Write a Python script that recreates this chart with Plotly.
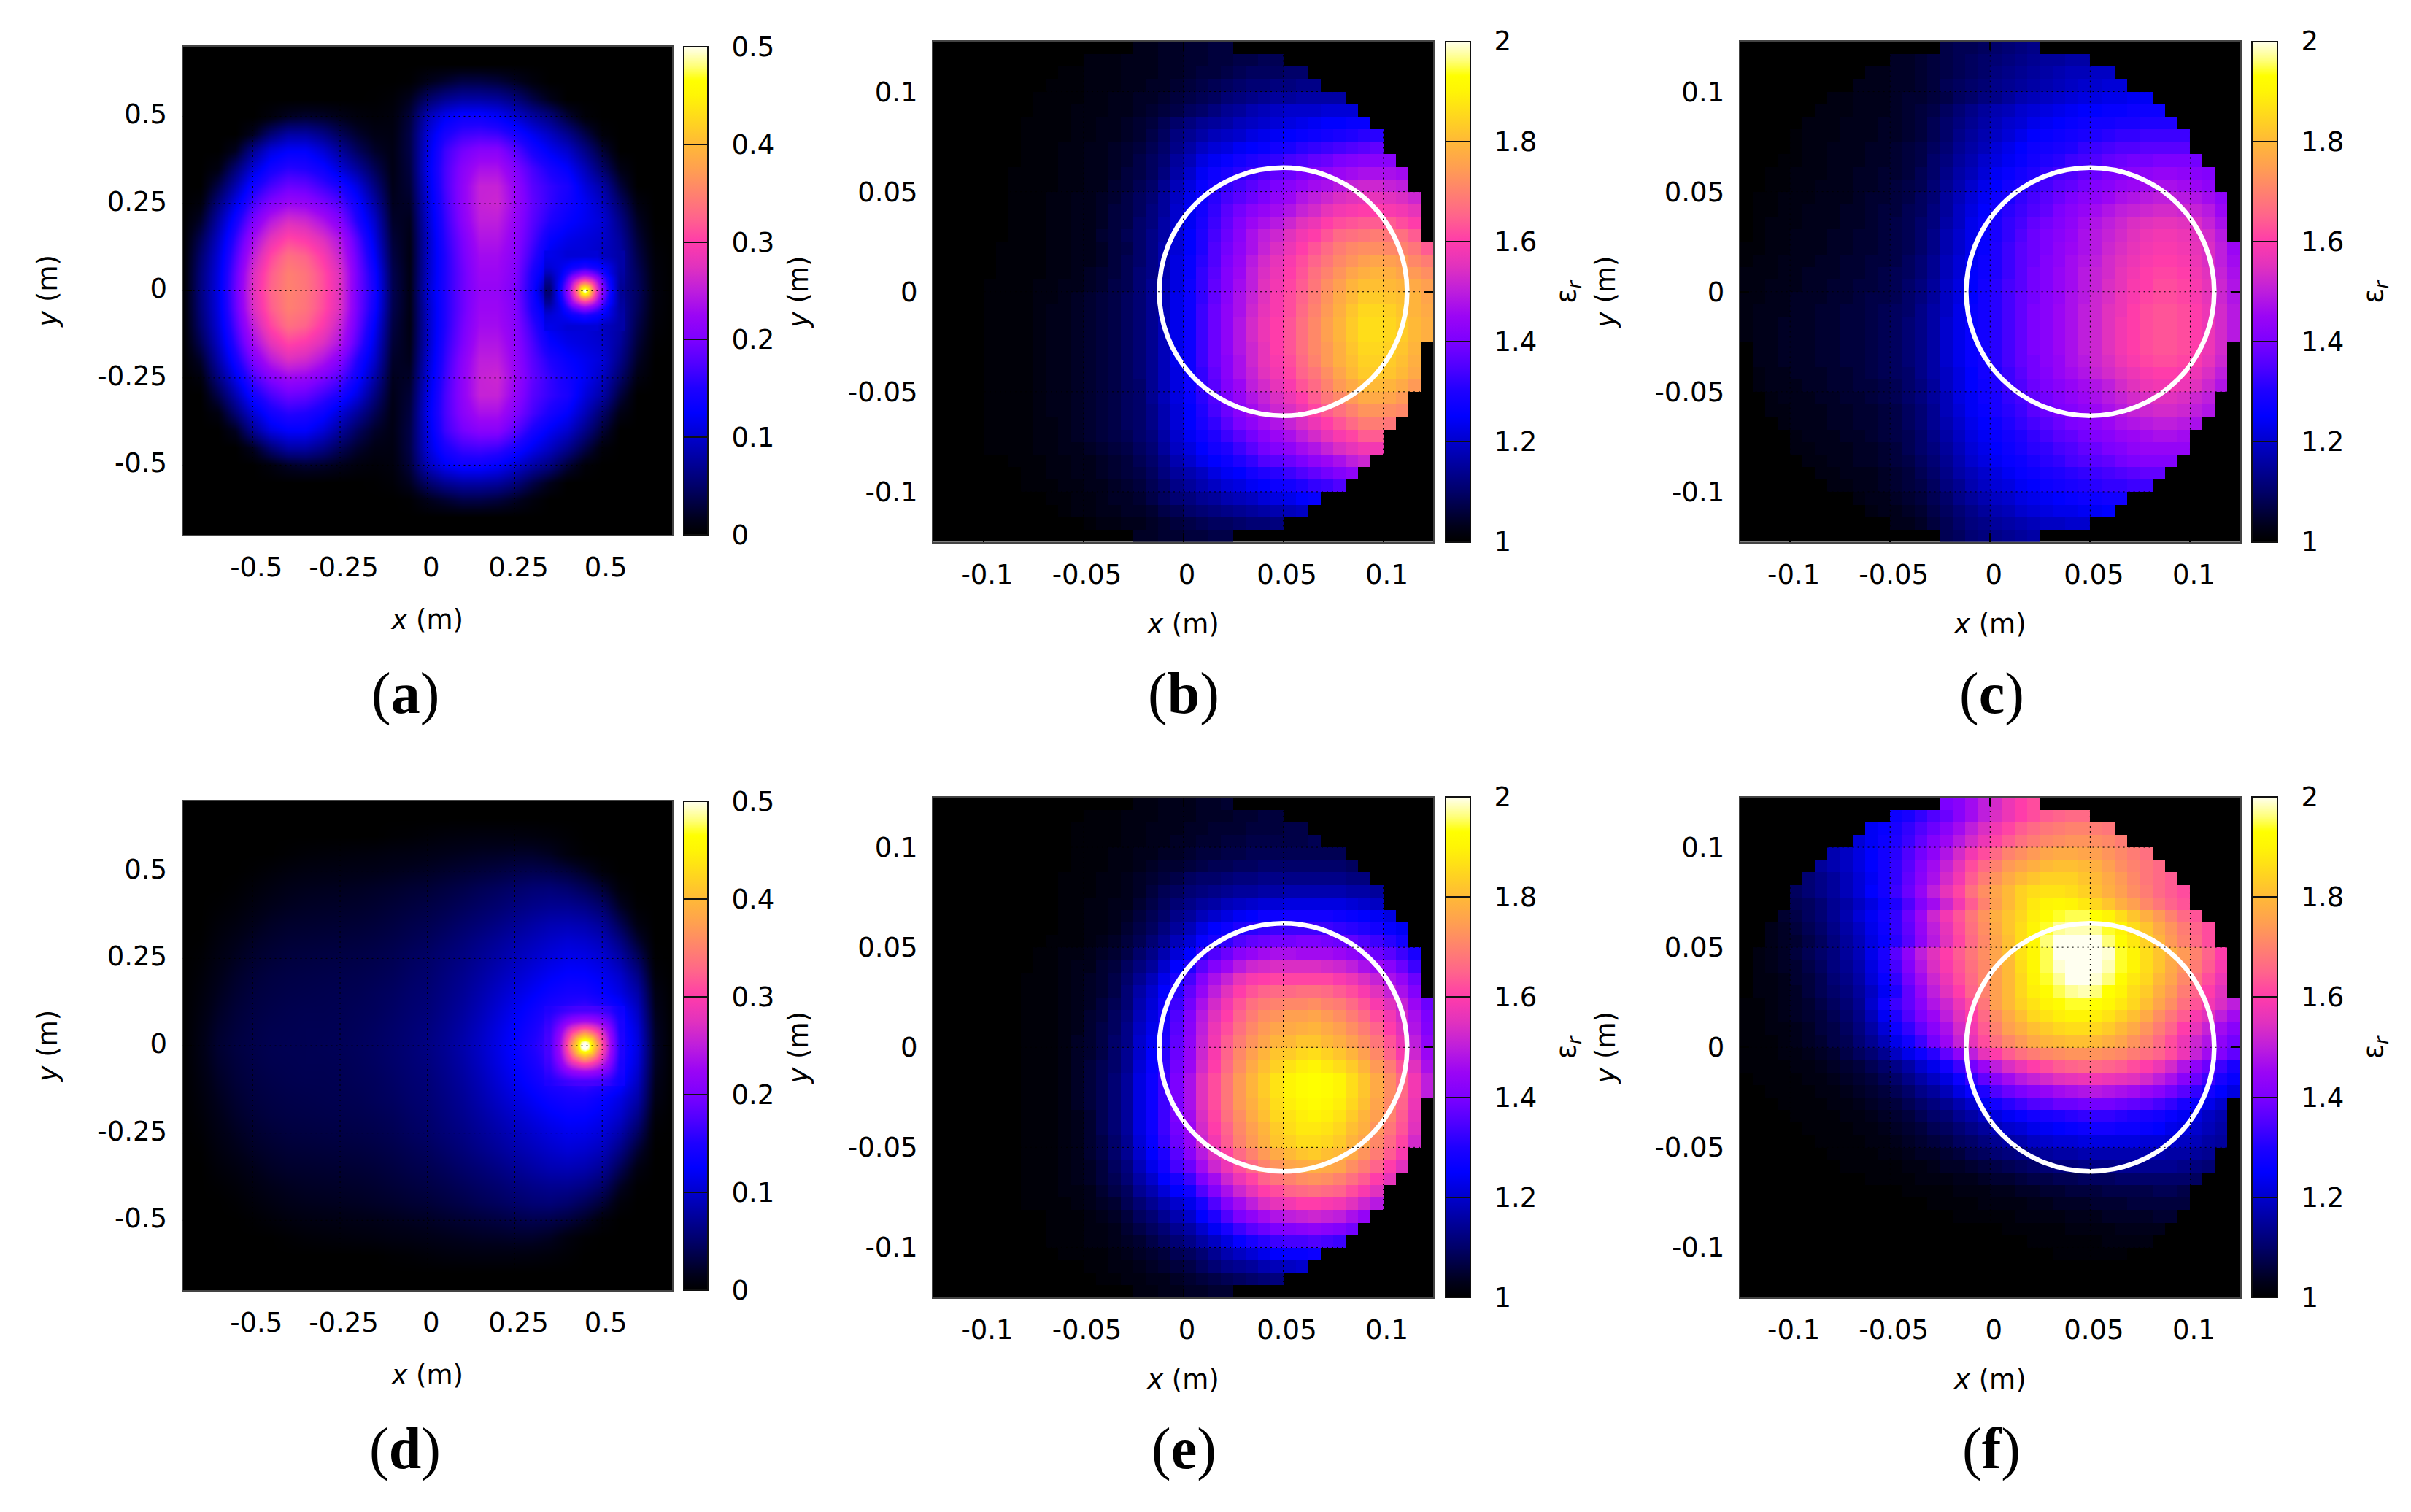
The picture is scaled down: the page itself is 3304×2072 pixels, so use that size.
import plotly.graph_objects as go

W, H = 3304, 2072
FONT = "DejaVu Sans"

# ---------- tick labels ----------
FIELD_TICKS = [-0.5, -0.25, 0, 0.25, 0.5]
FIELD_TEXT = ["-0.5", "-0.25", "0", "0.25", "0.5"]
EPS_TICKS = [-0.1, -0.05, 0, 0.05, 0.1]
EPS_TEXT = ["-0.1", "-0.05", "0", "0.05", "0.1"]
FIELD_BAR = [0, 0.1, 0.2, 0.3, 0.4, 0.5]
FIELD_BAR_TEXT = ["0", "0.1", "0.2", "0.3", "0.4", "0.5"]
EPS_BAR = [1, 1.2, 1.4, 1.6, 1.8, 2]
EPS_BAR_TEXT = ["1", "1.2", "1.4", "1.6", "1.8", "2"]

CIRCLE_X, CIRCLE_Y, CIRCLE_R = 0.05, 0.0, 0.062

# ---------- field maps (a), (d): thousandths, rows from y=0.70 down to y=0 (symmetric about y=0) ----------
FIELD_X = [-0.70, -0.65, -0.60, -0.55, -0.50, -0.45, -0.40, -0.35, -0.30, -0.25, -0.20, -0.15, -0.10, -0.05, 0,
           0.05, 0.10, 0.15, 0.20, 0.25, 0.30, 0.35, 0.40, 0.45, 0.50, 0.55, 0.60, 0.65, 0.70]
FIELD_Y_HALF = [0.70, 0.65, 0.60, 0.55, 0.50, 0.45, 0.40, 0.35, 0.30, 0.25, 0.20, 0.15, 0.10, 0.05, 0]

A_HALF = [
[0]*29,
[0]*29,
[0,0,0,0,0,0,0,0,0,0,0,0,0,2,15,25,35,35,30,20,8,0,0,0,0,0,0,0,0],
[0,0,0,0,0,0,0,0,0,0,0,1,4,18,50,70,80,80,75,60,35,15,0,0,0,0,0,0,0],
[0,0,0,0,0,8,20,25,22,15,8,5,8,30,90,120,135,135,125,105,80,60,28,5,0,0,0,0,0],
[0,0,0,0,18,55,80,80,65,42,24,12,10,35,105,145,165,170,165,145,118,95,68,35,6,0,0,0,0],
[0,0,0,18,70,110,125,125,105,75,45,22,12,35,110,165,195,210,210,180,145,120,100,65,28,0,0,0,0],
[0,0,10,55,105,140,155,150,135,105,75,40,12,32,115,170,210,235,235,205,170,145,125,90,50,12,0,0,0],
[0,0,35,85,140,170,190,185,165,145,110,60,14,28,110,170,215,255,255,220,180,160,145,108,80,30,0,0,0],
[0,8,60,115,170,205,225,220,200,175,135,80,17,22,105,165,215,255,260,225,185,160,140,120,95,50,10,0,0],
[0,22,80,140,200,245,270,262,238,205,150,98,22,16,100,160,210,250,250,220,180,150,130,118,105,65,20,0,0],
[0,40,95,160,230,278,305,295,272,238,175,110,28,13,95,155,200,240,240,215,172,130,115,108,100,75,28,2,0],
[0,52,105,175,252,305,335,325,296,255,188,122,33,11,95,150,195,230,230,210,160,115,105,105,95,80,35,5,0],
[0,58,110,186,270,320,348,338,310,270,195,135,38,12,95,150,190,225,225,205,145,100,90,90,80,78,42,7,0],
[0,60,112,190,275,325,350,340,312,272,195,140,40,12,100,150,190,220,220,200,140,55,60,90,70,72,45,8,0],
]
D_HALF = [
[0]*29,
[0]*29,
[0,0,0,0,0,0,0,0,0,0,0,0,2,3,5,7,8,9,9,9,8,6,3,0,0,0,0,0,0],
[0,0,0,0,0,0,2,4,5,6,7,8,10,11,13,15,17,19,20,22,22,18,8,2,0,0,0,0,0],
[0,0,0,0,2,5,8,10,11,12,13,14,16,18,20,23,26,29,32,36,38,36,30,20,6,0,0,0,0],
[0,0,0,2,6,10,14,16,17,18,19,21,23,26,28,32,36,41,45,50,55,57,52,42,28,6,0,0,0],
[0,0,2,5,10,15,18,20,21,22,23,25,28,31,34,38,43,48,53,60,66,70,70,64,50,20,2,0,0],
[0,0,5,9,15,20,23,24,25,26,27,29,32,36,39,44,50,56,63,71,79,86,88,84,72,40,10,0,0],
[0,1,8,14,20,24,27,28,29,30,31,33,36,40,44,50,57,65,73,82,90,98,104,100,90,62,25,0,0],
[0,3,11,18,24,28,31,32,33,34,35,37,40,45,49,56,63,72,81,91,100,109,116,114,105,82,45,2,0],
[0,5,14,22,28,32,34,35,36,37,38,40,43,48,52,60,68,78,89,100,111,121,128,127,118,100,65,6,0],
[0,7,17,25,31,34,36,37,38,39,40,43,46,51,55,63,72,84,97,110,122,134,142,142,130,112,82,12,0],
[0,9,20,28,33,36,38,39,39,40,42,44,48,53,57,66,76,89,104,119,134,150,160,170,158,135,95,16,0],
[0,11,23,30,35,38,39,40,40,41,43,46,50,55,60,69,80,94,110,126,143,165,170,170,165,145,105,20,0],
[0,12,25,32,36,39,40,40,41,42,44,47,51,56,62,71,83,97,113,130,150,170,200,220,200,150,110,22,0],
]

# small hot spot around the feed, finer read-out; rows from dy=+0.10 down to 0
SPOT_X = [0.35, 0.38, 0.40, 0.415, 0.43, 0.44, 0.45, 0.46, 0.47, 0.485, 0.50, 0.52, 0.55]
SPOT_Y_HALF = [0.10, 0.07, 0.05, 0.035, 0.02, 0.01, 0]
A_SPOT_HALF = [
[115,110,105,105,105,105,105,105,105,105,95,90,80],
[105,115,125,135,140,145,150,145,140,135,125,110,80],
[90,118,150,175,195,205,210,205,195,175,150,115,78],
[75,125,175,220,250,265,275,265,250,220,175,130,76],
[65,135,195,250,310,345,365,345,310,250,195,135,74],
[58,140,205,265,345,420,450,420,345,265,205,140,72],
[55,145,210,275,365,450,520,450,365,275,210,145,72],
]
D_SPOT_HALF = [
[150,160,165,168,170,170,170,170,170,168,165,158,135],
[160,190,210,222,230,233,235,233,230,222,210,188,145],
[165,210,250,275,295,305,310,305,295,275,250,208,145],
[168,222,275,315,345,365,380,365,345,315,275,220,148],
[170,230,295,345,410,430,445,430,410,345,295,228,150],
[170,233,305,365,430,480,500,480,430,365,305,232,150],
[170,235,310,380,445,500,530,500,445,380,310,232,150],
]

# ---------- permittivity maps (b), (c), (e), (f): (eps_r - 1) in hundredths, rows from top; each row centred in 40 columns ----------
B_ROWS = [
[3,3,4,4,5,5,6,6],
[2,2,2,3,3,3,4,4,5,5,6,6,7,7,8,8],
[1,1,2,2,2,3,3,3,4,4,5,6,6,7,8,9,9,9,10,10],
[1,1,1,2,2,2,3,3,4,4,5,6,7,8,9,10,11,11,12,12,13,13],
[0,1,1,1,1,2,2,3,3,4,4,5,6,7,8,9,11,12,13,14,15,15,16,16,16,16],
[0,0,1,1,1,2,2,2,3,3,4,5,6,7,9,10,12,14,15,17,18,19,20,20,20,21,21,21],
[0,0,1,1,1,1,2,2,3,3,4,5,6,8,10,12,14,15,16,18,19,20,21,22,23,24,25,25,26,26],
[0,0,0,1,1,1,1,2,2,3,3,4,5,7,9,12,14,16,18,19,20,22,23,24,25,26,27,28,29,30,31,31],
[0,0,0,1,1,1,2,2,3,3,4,5,6,8,10,13,16,19,21,22,24,25,26,28,29,31,32,33,34,35,36,37],
[0,0,0,0,1,1,1,2,2,3,3,4,5,7,9,11,15,18,22,24,26,28,30,31,32,34,35,37,38,40,41,42,42,42],
[0,0,0,0,1,1,1,1,2,2,3,3,4,6,7,9,12,16,20,24,27,29,31,33,35,37,38,40,42,43,45,46,47,47,47,46],
[0,0,0,0,1,1,1,1,2,2,3,3,5,6,8,10,14,18,22,26,29,32,34,36,38,40,42,44,46,47,49,51,52,52,51,50],
[0,0,0,0,0,1,1,1,2,2,3,3,4,5,7,9,11,15,19,23,27,31,34,36,38,40,43,45,48,50,52,54,55,56,56,55,54,52],
[0,0,0,0,0,1,1,1,2,2,3,3,4,6,7,9,12,15,20,24,28,32,36,39,42,44,46,48,51,53,56,58,59,60,60,59,58,56],
[0,0,0,0,0,1,1,1,2,2,3,3,4,6,7,10,12,16,20,24,29,33,37,41,45,47,49,52,55,57,60,62,63,64,64,64,62,60],
[0,0,0,0,0,1,1,1,2,2,3,3,5,6,8,10,13,16,21,25,30,34,38,42,47,50,52,55,58,60,63,66,67,68,69,68,67,64],
[0,0,0,0,0,1,1,1,1,2,2,3,3,4,6,7,10,13,17,21,25,30,35,39,43,47,51,54,57,60,63,66,69,71,72,72,71,70,68,64],
[0,0,0,0,0,1,1,1,1,2,2,3,3,4,6,8,10,13,17,22,26,31,35,40,44,49,53,56,59,62,65,68,71,73,75,76,75,74,71,69],
[0,0,0,0,0,1,1,1,1,2,2,3,4,5,6,8,11,13,17,22,26,32,36,41,45,50,54,57,60,63,67,70,73,76,78,79,78,76,74,72],
[0,0,0,0,1,1,1,1,2,2,3,3,4,5,7,8,11,14,18,22,27,32,37,41,46,50,55,58,61,64,68,72,75,79,81,81,80,79,77,75],
[0,0,0,0,1,1,1,1,2,2,3,4,5,6,7,9,11,14,18,23,27,32,37,42,47,51,55,59,62,65,69,73,77,80,83,83,82,81,79,76],
[0,0,0,0,1,1,1,1,2,3,3,4,5,6,7,9,11,14,18,23,27,33,38,43,47,52,56,59,62,66,70,74,78,82,85,85,84,82,79,77],
[0,0,0,0,1,1,1,1,2,3,3,4,5,6,7,9,11,14,18,23,27,33,38,43,48,53,57,60,63,67,71,75,79,83,86,86,85,83,80,78],
[0,0,0,0,1,1,1,1,2,3,3,4,5,6,7,9,11,14,18,23,27,33,38,43,48,53,57,60,63,67,71,75,79,83,86,86,85,83,80,78],
[0,0,0,1,1,1,1,2,3,3,4,5,6,7,9,11,14,18,23,27,33,38,43,48,52,56,60,63,67,71,74,78,82,85,85,84,82,79],
[0,0,0,1,1,1,1,2,3,3,4,5,6,7,9,11,14,18,23,27,33,38,42,47,52,56,59,62,66,70,74,78,81,84,84,83,81,78],
[0,0,0,1,1,1,1,2,3,3,4,5,6,7,9,11,14,18,22,27,32,37,42,47,51,55,58,61,65,68,72,76,80,83,83,82,80,77],
[0,0,0,1,1,1,1,2,3,3,4,5,6,7,9,10,14,18,22,27,32,36,41,45,50,53,56,59,63,66,70,74,77,80,80,79,77,74],
[0,0,1,1,1,1,2,3,3,4,5,6,7,9,10,14,18,22,26,31,35,40,44,48,51,54,57,60,64,68,71,74,77,77,76,74],
[0,0,1,1,1,1,2,3,3,4,5,6,7,9,10,13,17,21,25,30,34,38,42,46,49,52,54,57,61,64,67,70,73,73,72,71],
[0,1,1,1,1,2,2,3,4,5,6,7,9,10,13,17,21,25,29,32,36,40,43,46,48,51,54,57,60,63,66,69,69,68],
[1,1,1,1,2,2,3,4,5,6,7,8,10,12,16,20,24,27,30,33,36,39,42,45,47,50,53,56,59,61,64,64],
[1,1,1,1,2,2,3,3,4,5,6,7,9,11,15,19,22,25,28,30,33,36,39,41,43,46,48,51,54,56,58,58],
[0,1,1,1,2,2,3,3,4,5,6,8,10,13,17,20,23,25,27,30,32,35,36,38,40,43,45,47,50,52],
[0,1,1,2,2,3,3,4,5,6,7,9,12,15,17,19,22,24,25,28,30,31,33,35,37,39,41,43],
[1,1,1,2,2,3,3,4,5,6,8,10,13,15,17,19,21,22,24,25,27,28,30,32,33,35],
[1,1,2,2,3,4,4,5,7,9,11,12,14,15,17,18,19,21,22,23,25,26],
[1,2,2,3,3,4,4,5,7,8,10,11,12,13,14,15,16,17,18,19],
[1,2,2,3,3,4,5,6,7,8,9,9,10,11,11,12],
[4,4,5,5,6,6,7,7],
]
C_ROWS = [
[7,8,8,9,10,11,12,13],
[4,4,5,6,7,8,9,10,11,12,13,14,15,15,16,16],
[3,3,4,4,5,6,7,8,9,10,12,13,14,15,16,17,18,18,19,19],
[3,3,3,4,4,5,6,8,9,10,11,13,14,15,16,17,18,19,20,20,21,21],
[2,2,3,3,3,4,5,5,6,7,9,10,12,13,15,17,18,19,20,21,22,22,23,23,24,24],
[2,2,2,3,3,3,4,5,6,7,9,11,13,15,17,18,20,21,22,23,24,25,25,26,26,27,27,27],
[2,2,2,3,3,3,4,4,5,6,8,10,12,14,16,18,20,21,23,24,25,26,27,28,28,29,29,30,30,30],
[1,2,2,2,3,3,3,4,4,5,6,8,10,13,15,17,19,21,23,25,26,27,28,29,30,31,32,32,33,33,33,33],
[1,2,2,3,3,3,4,4,5,6,7,9,11,14,16,18,21,23,25,27,28,29,30,32,33,34,35,35,36,36,36,36],
[1,1,2,2,3,3,3,4,4,5,6,7,10,12,15,17,20,22,24,26,28,30,31,33,34,35,37,38,39,39,40,40,40,39],
[1,1,2,2,2,3,3,4,4,5,5,6,8,10,13,16,18,21,24,26,28,30,32,34,35,37,38,40,41,42,43,44,44,43,42,41],
[1,1,2,2,3,3,3,4,4,5,6,7,8,11,14,17,20,23,25,28,30,32,34,36,37,39,41,42,44,45,46,47,47,46,45,43],
[1,1,2,2,2,3,3,3,4,5,5,6,7,9,11,15,18,21,24,27,29,32,34,36,38,40,42,43,45,47,48,49,50,50,49,48,46,43],
[1,1,2,2,3,3,3,4,4,5,6,6,8,9,12,15,19,22,25,28,31,33,35,37,40,42,44,46,48,50,51,52,53,53,52,51,49,45],
[1,2,2,2,3,3,3,4,4,5,6,7,8,10,12,16,19,23,26,29,32,34,37,39,41,43,46,48,50,52,54,55,56,56,55,54,51,47],
[1,2,2,3,3,3,4,4,5,5,6,7,8,10,13,17,20,23,26,29,32,35,38,40,42,44,47,49,51,53,55,57,58,58,57,55,53,49],
[1,1,2,2,3,3,3,4,4,5,5,6,7,8,10,13,17,20,23,26,30,33,36,38,40,43,45,47,49,52,54,56,58,59,59,58,56,54,50,45],
[1,2,2,3,3,3,4,4,5,5,6,6,7,9,11,14,18,21,24,27,30,33,36,38,41,43,46,48,50,53,55,57,59,60,60,59,57,54,50,46],
[2,2,2,3,3,4,4,4,5,5,6,7,8,9,11,14,18,21,25,27,30,33,36,39,41,44,46,49,51,53,56,58,60,61,61,60,58,55,51,47],
[2,2,3,3,3,4,4,5,5,6,6,7,8,10,12,15,19,22,25,28,31,34,36,39,41,44,46,49,51,54,56,59,60,62,62,61,59,56,52,48],
[2,2,3,3,4,4,4,5,5,6,7,7,8,10,12,15,19,22,25,28,31,34,37,39,42,44,47,49,52,54,57,59,61,62,62,61,59,56,52,48],
[2,3,3,3,4,4,5,5,6,6,7,8,9,10,13,16,19,23,26,28,31,34,37,40,42,45,47,50,52,55,57,60,62,63,63,62,60,57,53,49],
[2,3,3,4,4,4,5,5,6,6,7,8,9,11,13,16,20,23,26,28,31,34,37,40,42,45,47,50,52,55,58,60,62,63,63,62,60,57,53,49],
[2,3,3,4,4,4,5,5,6,6,7,8,9,11,13,16,20,23,26,28,31,34,37,40,42,45,47,50,52,55,58,60,62,63,63,62,60,57,53,49],
[3,3,4,4,4,5,5,6,6,7,8,9,11,13,16,20,23,26,28,31,34,37,40,42,45,47,50,52,55,58,60,62,63,63,62,60,57,53],
[3,3,4,4,4,5,5,6,6,7,8,9,11,13,16,20,23,26,28,31,34,37,39,42,44,47,49,52,54,57,59,61,62,62,61,59,56,52],
[2,3,3,4,4,4,5,5,6,7,8,9,10,13,16,19,22,25,28,30,33,36,39,41,44,46,48,51,53,55,57,59,60,60,59,57,54,50],
[2,3,3,3,4,4,5,5,6,6,7,8,10,12,15,19,22,25,27,30,33,35,38,40,42,44,46,48,50,53,55,57,58,58,57,55,52,48],
[2,3,3,3,4,4,5,5,6,7,8,10,12,15,18,22,24,27,29,32,34,37,39,41,43,45,47,49,51,53,54,55,55,54,52,50],
[2,2,3,3,3,4,4,5,5,6,7,9,11,14,18,21,24,26,29,31,33,36,38,40,41,43,45,47,49,51,52,53,53,52,50,48],
[2,3,3,3,4,4,5,5,6,7,9,11,14,17,20,23,25,27,30,32,34,36,38,40,41,43,45,47,48,49,50,50,49,47],
[2,3,3,3,4,4,5,6,7,8,10,13,16,19,22,24,26,28,30,32,34,36,37,39,41,42,44,45,46,47,47,46],
[2,2,3,3,3,4,4,5,6,8,10,12,15,18,21,23,25,27,29,31,32,34,35,37,38,40,41,43,44,44,44,44],
[2,2,3,3,4,4,5,6,7,9,11,14,17,20,22,24,26,27,29,31,32,34,35,36,37,39,40,41,41,41],
[2,2,3,3,3,4,5,6,8,10,13,16,18,20,22,24,26,27,29,30,31,32,33,34,35,36,37,37],
[2,2,3,3,4,5,6,7,9,12,14,17,19,21,22,24,25,27,28,29,30,31,32,32,33,33],
[2,3,3,4,5,6,8,10,13,15,17,19,20,22,23,24,25,26,27,27,28,28],
[2,3,3,4,5,7,9,11,13,15,17,18,20,21,22,23,23,24,24,25],
[3,3,4,6,8,10,12,13,15,16,17,18,19,19,20,20],
[8,9,11,12,13,14,15,16],
]
E_ROWS = [
[2,2,3,3,3,4,4,5],
[1,1,1,2,2,2,3,3,3,4,4,4,5,5,6,6],
[0,1,1,1,1,2,2,3,3,3,4,4,5,5,5,6,6,6,7,7],
[0,0,1,1,1,1,2,2,3,3,4,4,5,5,6,6,7,7,7,7,7,8],
[0,0,0,0,1,1,1,2,2,3,3,4,4,5,6,6,7,7,8,8,8,8,8,8,8,8],
[0,0,0,0,0,1,1,1,2,2,3,4,5,5,6,7,8,8,9,9,10,10,10,10,10,10,10,9],
[0,0,0,0,0,1,1,1,2,2,3,4,5,6,7,9,10,10,11,12,12,13,13,13,13,13,13,13,12,12],
[0,0,0,0,0,0,1,1,1,2,2,3,4,6,8,9,11,12,13,14,15,15,16,16,17,17,17,17,17,16,16,15],
[0,0,0,0,0,0,1,1,2,2,3,3,5,7,9,11,13,15,16,18,19,20,21,21,22,22,22,22,22,21,20,19],
[0,0,0,0,0,0,0,1,1,2,2,3,4,6,8,10,13,15,18,20,22,24,25,27,27,28,28,28,28,27,26,25,24,22],
[0,0,0,0,0,0,0,0,1,1,2,2,3,5,7,9,12,15,18,22,25,27,30,31,32,33,33,33,33,33,32,31,30,28,26,24],
[0,0,0,0,0,0,0,1,1,1,2,3,4,6,8,11,14,18,21,26,29,32,35,37,38,39,39,40,40,39,38,37,35,33,31,28],
[0,0,0,0,0,0,0,1,1,2,2,3,4,5,7,10,13,17,21,25,31,35,38,42,44,46,47,47,46,46,46,45,43,41,38,36,33,29],
[0,0,0,0,0,0,0,1,1,2,3,3,5,6,9,12,15,20,25,30,36,41,45,49,52,53,54,54,54,54,53,52,50,47,45,42,38,33],
[0,0,0,0,0,0,1,1,1,2,3,4,5,7,10,14,18,23,29,34,41,47,51,56,59,60,61,61,61,61,61,59,57,54,51,47,44,38],
[0,0,0,0,0,0,1,1,1,2,3,4,5,7,11,16,20,25,31,37,44,50,55,60,63,65,66,66,67,67,66,64,62,59,55,51,47,41],
[0,0,0,0,0,0,0,1,1,1,2,3,4,6,8,11,17,21,27,33,39,47,53,58,63,67,69,70,71,71,72,70,69,66,63,59,55,51,45,38],
[0,0,0,0,0,0,0,1,1,1,2,3,5,6,9,12,18,22,28,35,41,49,55,60,65,69,72,73,75,75,76,74,72,69,66,62,58,53,47,40],
[0,0,0,0,0,0,0,1,1,1,2,3,5,7,9,13,19,23,29,36,42,50,57,62,67,71,74,76,77,78,79,77,75,72,69,65,60,55,48,41],
[0,0,0,0,0,0,0,1,1,1,2,4,5,7,10,13,20,24,30,37,43,51,58,64,69,73,76,79,80,82,82,80,78,75,72,68,63,57,50,43],
[0,0,0,0,0,0,0,1,1,1,2,4,5,7,10,14,20,25,31,38,44,52,59,65,71,75,79,82,83,85,86,84,82,79,75,71,65,59,52,45],
[0,0,0,0,0,0,0,1,1,1,2,4,6,8,10,14,21,26,32,39,45,53,60,66,72,77,81,84,87,89,90,88,86,83,79,74,69,63,55,47],
[0,0,0,0,0,0,0,1,1,1,2,4,6,8,11,15,22,27,33,40,47,55,62,68,74,79,83,87,90,92,93,92,90,86,82,77,72,66,58,50],
[0,0,0,0,0,0,0,1,1,1,2,4,6,8,11,15,22,27,33,40,47,55,62,68,74,79,83,87,90,92,93,92,90,86,82,77,72,66,58,50],
[0,0,0,0,0,0,1,1,1,2,4,6,8,11,15,22,27,33,40,47,55,62,68,74,78,82,86,89,91,92,91,89,85,81,76,71,65,57],
[0,0,0,0,0,0,1,1,1,2,3,5,8,11,15,22,27,33,40,46,54,61,67,72,77,81,85,87,89,90,89,87,83,79,75,70,64,56],
[0,0,0,0,0,0,1,1,1,2,3,5,8,11,15,22,27,33,39,45,53,60,65,71,75,79,83,86,88,88,87,85,81,78,73,68,63,55],
[0,0,0,0,0,0,1,1,1,2,3,5,7,10,14,21,26,32,38,44,52,58,64,70,74,78,82,84,86,86,85,83,79,76,71,66,61,53],
[0,0,0,0,0,1,1,1,2,3,5,7,10,14,20,25,30,36,42,49,55,61,66,70,74,77,80,82,83,81,80,77,73,69,64,59],
[0,0,0,0,0,1,1,1,2,3,4,6,9,12,18,23,28,34,38,46,52,57,62,66,70,73,76,77,78,77,76,72,69,65,60,55],
[0,0,0,0,1,1,1,2,3,4,6,8,11,16,20,25,29,33,40,46,52,57,61,65,68,70,72,73,72,70,67,64,60,56],
[0,0,0,1,1,1,2,2,3,5,7,9,14,17,21,25,28,35,41,47,52,56,60,62,65,66,67,66,65,62,59,55],
[0,0,0,1,1,1,1,2,3,4,5,8,11,14,17,20,23,29,35,41,46,50,54,56,58,60,60,59,58,55,52,49],
[0,0,0,0,1,1,1,2,3,4,6,9,11,14,17,20,25,30,35,40,43,46,48,50,51,52,51,50,47,44],
[0,0,0,1,1,1,2,2,3,5,7,9,11,14,16,20,24,29,33,36,38,40,41,42,43,42,41,39],
[0,0,1,1,1,2,2,3,4,5,7,9,11,13,16,19,22,26,29,31,33,34,34,35,34,33],
[0,1,1,1,1,2,3,4,5,6,8,9,11,14,17,19,21,23,25,26,26,27],
[0,0,1,1,2,2,3,4,5,6,7,9,11,13,14,15,17,18,19,20],
[0,1,1,2,2,3,3,4,5,6,7,8,9,10,11,12],
[2,2,3,3,4,4,5,5],
]
F_ROWS = [
[40,42,46,50,53,57,60,62],
[27,29,32,35,38,42,46,50,54,57,60,62,64,65,66,66],
[24,26,29,32,35,38,42,46,50,54,58,61,64,66,68,69,70,70,69,68],
[21,24,27,30,33,37,41,45,49,53,57,61,64,67,69,71,72,73,73,72,71,69],
[17,19,22,25,28,31,35,39,43,48,53,58,62,66,70,72,74,76,77,77,76,75,73,71,69,67],
[15,17,19,22,25,28,32,36,41,46,51,56,62,66,70,74,76,78,80,81,81,80,78,75,72,70,68,66],
[11,13,15,18,21,24,28,32,37,42,47,53,58,64,69,73,77,80,82,84,84,84,82,80,77,74,71,68,66,64],
[9,11,13,15,18,21,25,28,33,38,44,50,56,61,67,72,76,80,84,86,87,87,86,84,81,78,75,72,69,66,64,62],
[8,9,11,14,16,19,22,26,30,35,41,46,52,58,64,70,75,80,84,88,90,91,90,88,85,82,78,75,71,68,65,63],
[5,7,9,11,14,17,21,24,28,32,38,45,52,58,63,68,73,78,82,85,89,92,94,95,95,93,90,86,82,78,74,70,66,63],
[3,4,6,8,10,13,16,19,23,27,32,37,44,50,56,62,67,72,77,82,86,90,94,97,98,98,97,94,90,86,82,77,73,69,65,62],
[3,4,5,7,9,12,15,18,22,26,31,36,43,49,55,61,66,71,76,81,86,91,96,100,102,102,100,96,92,88,84,79,74,70,66,62],
[2,3,4,6,8,10,12,15,18,23,29,36,43,50,55,60,64,68,72,76,81,87,91,95,100,103,104,102,99,94,90,86,82,78,74,70,65,60],
[2,3,4,5,7,9,12,14,17,22,28,34,41,48,54,59,63,67,71,75,80,86,91,95,99,102,103,101,98,94,90,86,82,77,73,69,64,59],
[2,2,3,5,6,8,11,13,16,21,26,32,39,46,52,57,62,66,71,75,80,85,90,94,97,100,100,99,96,92,88,85,80,76,71,67,62,57],
[2,2,3,4,6,8,10,12,15,19,24,30,37,44,50,55,60,65,70,75,80,85,89,92,95,97,98,96,93,90,86,83,78,74,69,65,60,55],
[1,1,2,3,4,5,7,9,11,14,20,27,33,37,42,48,52,57,62,68,75,80,84,87,90,92,94,94,93,91,88,85,81,76,72,67,63,58,54,50],
[1,1,2,3,4,5,6,8,10,13,18,24,30,35,40,45,50,55,60,66,72,77,81,85,87,89,90,90,89,87,84,81,77,72,68,64,59,55,50,46],
[1,1,2,2,3,4,6,7,9,12,16,21,27,32,37,42,47,53,58,64,70,75,78,81,83,85,86,86,85,83,80,77,73,69,65,60,56,51,46,42],
[1,1,1,2,3,4,5,7,8,11,14,18,23,28,33,39,45,51,56,62,67,71,74,77,79,80,81,81,80,78,76,73,70,66,62,57,52,48,43,39],
[1,1,1,2,2,3,4,5,7,9,11,14,19,23,27,31,37,43,50,56,60,64,67,69,71,72,73,73,73,72,71,69,67,65,62,57,51,46,41,37],
[1,1,1,1,2,2,3,4,5,6,8,10,13,16,20,23,28,33,39,45,50,54,57,60,62,64,65,66,66,65,64,62,60,57,53,48,43,38,33,29],
[0,1,1,1,1,2,2,3,4,5,6,8,10,13,16,19,22,27,32,37,42,46,49,51,53,55,56,57,58,57,56,55,53,50,47,42,38,33,29,26],
[0,0,1,1,1,1,2,2,3,4,5,6,8,10,13,15,18,22,26,30,35,38,40,42,44,46,47,48,49,48,47,46,44,42,39,36,32,28,25,22],
[0,0,1,1,1,1,2,2,3,4,5,6,8,10,12,14,17,20,24,28,31,33,35,36,38,38,39,39,39,38,37,36,34,32,29,26,23,20],
[0,0,0,1,1,1,1,2,2,3,4,5,6,8,10,11,14,16,19,22,24,26,28,29,30,31,32,32,32,31,30,29,28,26,24,22,19,17],
[0,0,0,0,1,1,1,1,2,2,3,4,5,6,8,9,11,13,15,18,20,21,23,24,25,26,27,28,28,27,27,26,25,23,22,20,18,16],
[0,0,0,0,0,1,1,1,1,2,2,3,4,5,6,7,9,10,12,14,16,17,19,20,21,21,22,22,22,22,22,21,21,20,19,18,16,15],
[0,0,0,0,0,1,1,1,1,2,2,3,4,4,5,6,8,9,11,12,13,14,15,16,16,17,17,17,17,17,17,17,16,16,15,14],
[0,0,0,0,0,0,1,1,1,1,1,2,2,3,4,4,5,6,7,8,9,10,11,12,12,13,13,13,14,14,14,14,14,13,12,11],
[0,0,0,0,0,0,0,1,1,1,1,2,2,2,3,3,4,5,5,6,7,7,8,8,9,9,9,10,10,10,10,10,10,9],
[0,0,0,0,0,0,0,0,0,1,1,1,1,2,2,2,3,3,4,4,5,5,6,6,6,7,7,7,7,8,8,7],
[0,0,0,0,0,0,0,0,0,0,0,1,1,1,1,2,2,2,2,3,3,4,4,4,5,5,5,6,6,6,6,6],
[0,0,0,0,0,0,0,0,0,0,0,0,1,1,1,1,1,2,2,2,2,3,3,3,4,4,4,4,5,5],
[0,0,0,0,0,0,0,0,0,0,0,0,0,0,0,1,1,1,1,1,2,2,2,2,3,3,3,3],
[0,0,0,0,0,0,0,0,0,0,0,0,0,0,0,0,1,1,1,1,1,1,2,2,2,2],
[0,0,0,0,0,0,0,0,0,0,0,0,0,0,0,0,1,1,1,1,1,1],
[0]*20,
[0]*16,
[0]*8,
]

# ---------- colours ----------
PALETTE = [
    [0.00, "rgb(0,0,0)"], [0.03, "rgb(0,0,25)"], [0.06, "rgb(0,0,60)"], [0.10, "rgb(0,0,105)"],
    [0.15, "rgb(0,0,155)"], [0.20, "rgb(0,0,205)"], [0.25, "rgb(0,0,255)"], [0.30, "rgb(30,0,255)"],
    [0.35, "rgb(80,0,255)"], [0.40, "rgb(125,0,255)"], [0.45, "rgb(155,5,245)"], [0.50, "rgb(190,30,220)"],
    [0.55, "rgb(225,50,190)"], [0.60, "rgb(255,60,170)"], [0.65, "rgb(255,100,140)"], [0.70, "rgb(255,130,110)"],
    [0.75, "rgb(255,160,80)"], [0.80, "rgb(255,185,55)"], [0.85, "rgb(255,215,30)"], [0.90, "rgb(255,245,5)"],
    [0.93, "rgb(255,255,0)"], [0.96, "rgb(255,255,120)"], [1.00, "rgb(255,255,240)"],
]

# ---------- page layout in pixels ----------
FIELD_HALF, EPS_HALF = 0.70, 0.125
PANELS = [
    dict(k="a", x=(250.5, 921), y=(63.8, 733), bar=(937, 970), mid=555, lab=950),
    dict(k="b", x=(1279, 1964), y=(57, 742.5), bar=(1981, 2015), mid=1622, lab=950, eps_x=2149),
    dict(k="c", x=(2384.6, 3070), y=(57, 742.5), bar=(3086, 3121), mid=2729, lab=950, eps_x=3255),
    dict(k="d", x=(250.5, 921), y=(1098, 1768), bar=(937, 970), mid=555, lab=1985),
    dict(k="e", x=(1279, 1964), y=(1092.5, 1778), bar=(1981, 2015), mid=1622, lab=1985, eps_x=2149),
    dict(k="f", x=(2384.6, 3070), y=(1092.5, 1778), bar=(3086, 3121), mid=2729, lab=1985, eps_x=3255),
]

def px(v): return v / W
def py(v): return 1 - v / H

def mirror(half):
    return half + half[-2::-1]

def thousandths(rows):
    return [[v / 1000 for v in r] for r in rows]

def eps_grid(rows):
    out = []
    for r in rows:
        pad = (40 - len(r)) // 2
        out.append([None] * pad + [1 + v / 100 for v in r] + [None] * (40 - pad - len(r)))
    return out[::-1]

fig = go.Figure()
layout = dict(width=W, height=H, margin=dict(l=0, r=0, t=0, b=0, pad=0), autosize=False,
              paper_bgcolor="white", plot_bgcolor="black", showlegend=False,
              font=dict(family=FONT, size=37, color="black"))
shapes, annotations = [], []

FIELD_Y = [FIELD_Y_HALF[i] if i < 15 else -FIELD_Y_HALF[28 - i] for i in range(29)]
SPOT_Y = [SPOT_Y_HALF[i] if i < 7 else -SPOT_Y_HALF[12 - i] for i in range(13)]

GRIDS = {"b": B_ROWS, "c": C_ROWS, "e": E_ROWS, "f": F_ROWS}
FIELDS = {"a": (A_HALF, A_SPOT_HALF), "d": (D_HALF, D_SPOT_HALF)}

for n, p in enumerate(PANELS, start=1):
    xa, ya = f"x{n}", f"y{n}"
    is_field = p["k"] in FIELDS
    half = FIELD_HALF if is_field else EPS_HALF
    ticks = FIELD_TICKS if is_field else EPS_TICKS
    text = FIELD_TEXT if is_field else EPS_TEXT
    zmin, zmax = (0, 0.5) if is_field else (1, 2)
    bar_v = FIELD_BAR if is_field else EPS_BAR
    bar_t = FIELD_BAR_TEXT if is_field else EPS_BAR_TEXT

    cb = dict(x=px(p["bar"][0]), xanchor="left", xref="paper", thickness=p["bar"][1] - p["bar"][0],
              thicknessmode="pixels", lenmode="fraction", len=(p["y"][1] - p["y"][0]) / H,
              y=py(p["y"][1]), yanchor="bottom", yref="paper", xpad=0, ypad=0,
              outlinecolor="#111111", outlinewidth=2, borderwidth=0,
              tickmode="array", tickvals=bar_v, ticktext=["\u00a0\u00a0" + t for t in bar_t], ticks="inside",
              ticklen=p["bar"][1] - p["bar"][0], tickwidth=2, tickcolor="#111111",
              tickfont=dict(family=FONT, size=37, color="black"), ticklabelposition="outside")

    if is_field:
        base, spot = FIELDS[p["k"]]
        fig.add_trace(go.Heatmap(x=FIELD_X, y=FIELD_Y[::-1], z=thousandths(mirror(base))[::-1], zsmooth="best",
                                 colorscale=PALETTE, zmin=zmin, zmax=zmax, colorbar=cb, xaxis=xa, yaxis=ya))
        fig.add_trace(go.Heatmap(x=SPOT_X, y=SPOT_Y[::-1], z=thousandths(mirror(spot))[::-1], zsmooth="best",
                                 colorscale=PALETTE, zmin=zmin, zmax=zmax, showscale=False, xaxis=xa, yaxis=ya))
    else:
        dx = 2 * EPS_HALF / 40
        fig.add_trace(go.Heatmap(x0=-EPS_HALF + dx / 2, dx=dx, y0=-EPS_HALF + dx / 2, dy=dx, z=eps_grid(GRIDS[p["k"]]),
                                 colorscale=PALETTE, zmin=zmin, zmax=zmax, colorbar=cb, xaxis=xa, yaxis=ya,
                                 hoverongaps=False))
        shapes.append(dict(type="circle", xref=xa, yref=ya, x0=CIRCLE_X - CIRCLE_R, x1=CIRCLE_X + CIRCLE_R,
                           y0=CIRCLE_Y - CIRCLE_R, y1=CIRCLE_Y + CIRCLE_R, layer="above",
                           line=dict(color="white", width=6.5)))
        annotations.append(dict(text="ε<sub><i>r</i></sub>", xref="paper", yref="paper", x=px(p["eps_x"]),
                                xanchor="center", yanchor="middle",
                                y=py((p["y"][0] + p["y"][1]) / 2), textangle=-90, showarrow=False,
                                font=dict(family=FONT, size=37, color="black")))

    for t in ticks:
        shapes.append(dict(type="line", xref=xa, yref=ya, x0=t, x1=t, y0=-half, y1=half, layer="above",
                           line=dict(color="black", width=1, dash="2px,5px")))
        shapes.append(dict(type="line", xref=xa, yref=ya, x0=-half, x1=half, y0=t, y1=t, layer="above",
                           line=dict(color="black", width=1, dash="2px,5px")))

    common = dict(tickmode="array", tickvals=ticks, ticktext=text, range=[-half, half], showgrid=False,
                  zeroline=False, ticks="inside", ticklen=12, tickwidth=2, tickcolor="black", showline=True,
                  linecolor="#444444", linewidth=2, mirror="ticks", automargin=False, constrain="domain",
                  tickfont=dict(family=FONT, size=37, color="black"))
    layout[f"xaxis{n}"] = dict(domain=[px(p["x"][0]), px(p["x"][1])], anchor=ya, ticklabelstandoff=11, ticklabelshift=5,
                               title=dict(text="<i>x</i> (m)", standoff=38 if is_field else 34,
                                          font=dict(family=FONT, size=37)), **common)
    layout[f"yaxis{n}"] = dict(domain=[py(p["y"][1]), py(p["y"][0])], anchor=xa, ticklabelstandoff=12,
                               ticklabelshift=-3 if is_field else 0,
                               title=dict(text="<i>y</i> (m)", standoff=43, font=dict(family=FONT, size=37)), **common)

    annotations.append(dict(text=f"(<b>{p['k']}</b>)", xref="paper", yref="paper", x=px(p["mid"]), y=py(p["lab"]),
                            xanchor="center", yanchor="middle", showarrow=False,
                            font=dict(family="Liberation Serif", size=80, color="black")))

layout["shapes"] = shapes
layout["annotations"] = annotations
fig.update_layout(**layout)
fig.write_html("out.html", config={"displayModeBar": False},
               post_script="document.body.style.margin='0';document.body.style.overflow='hidden';")
